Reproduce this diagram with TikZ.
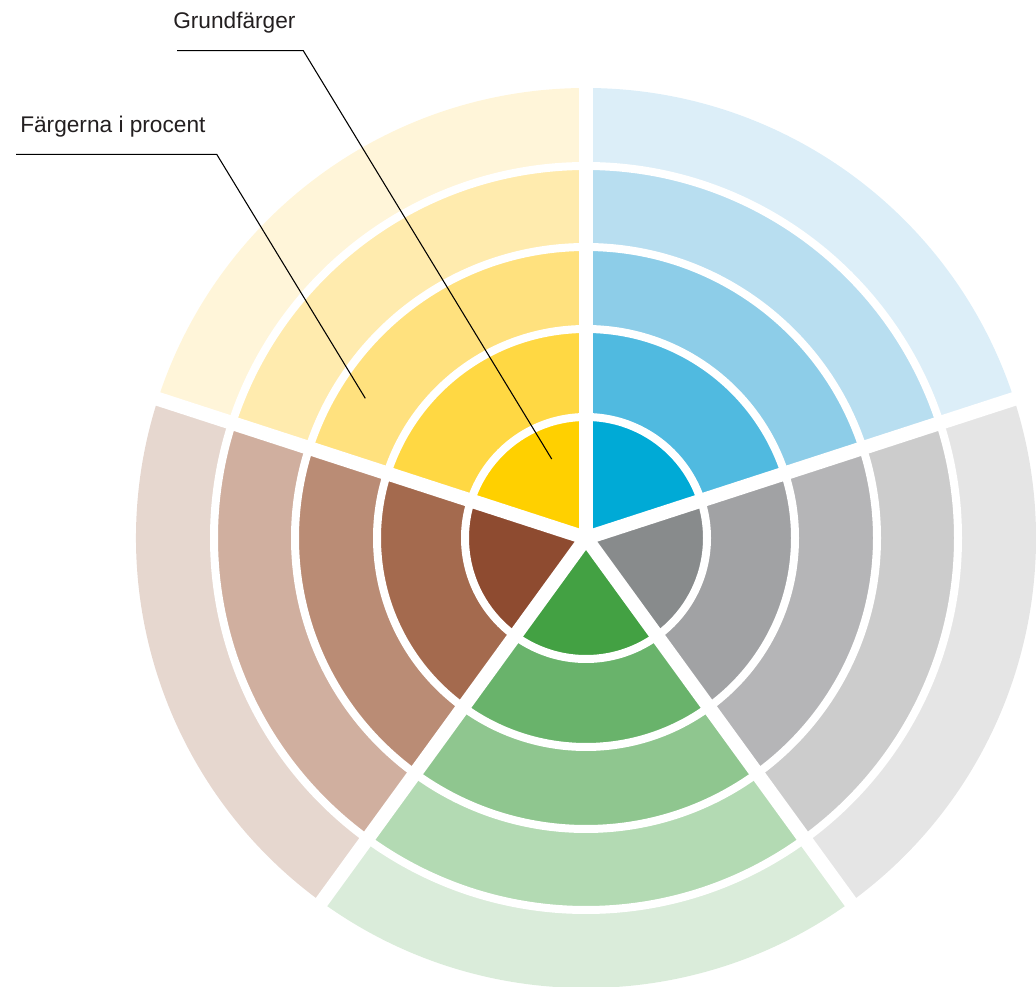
\documentclass[tikz,border=0pt]{standalone}
\usepackage{fontspec}
\setmainfont{Liberation Sans}
\definecolor{ye0}{HTML}{FFD000}
\definecolor{ye1}{HTML}{FFD843}
\definecolor{ye2}{HTML}{FFE17E}
\definecolor{ye3}{HTML}{FFEBAE}
\definecolor{ye4}{HTML}{FFF5D9}
\definecolor{bl0}{HTML}{00AAD6}
\definecolor{bl1}{HTML}{50BAE0}
\definecolor{bl2}{HTML}{8DCDE8}
\definecolor{bl3}{HTML}{B8DEF0}
\definecolor{bl4}{HTML}{DCEEF8}
\definecolor{gy0}{HTML}{888B8C}
\definecolor{gy1}{HTML}{A1A2A4}
\definecolor{gy2}{HTML}{B5B5B7}
\definecolor{gy3}{HTML}{CCCCCC}
\definecolor{gy4}{HTML}{E5E5E5}
\definecolor{gr0}{HTML}{43A143}
\definecolor{gr1}{HTML}{69B36B}
\definecolor{gr2}{HTML}{8FC68F}
\definecolor{gr3}{HTML}{B3DAB3}
\definecolor{gr4}{HTML}{DAECDA}
\definecolor{br0}{HTML}{8E4B30}
\definecolor{br1}{HTML}{A46A4E}
\definecolor{br2}{HTML}{BA8C75}
\definecolor{br3}{HTML}{D0AF9F}
\definecolor{br4}{HTML}{E6D7CF}
\definecolor{txt}{HTML}{231F20}
\tikzset{
  label text/.style={anchor=base west, inner sep=0pt, text=txt, font=\fontsize{17pt}{20pt}\selectfont},
  leader/.style={draw=black, line width=0.8pt},
  ringgap/.style={draw=white, line width=6pt},
  sectorgap/.style={draw=white, line width=10.5pt}
}
\begin{document}
\begin{tikzpicture}[x=0.75pt,y=0.75pt]
\useasboundingbox (0,0) rectangle (1036,986);
\coordinate (C) at (586,448);
% sectors
\foreach \a/\c in {90/ye,162/br,234/gr,306/gy,18/bl}{
  \foreach \r/\i in {450/4,372/3,291/2,209/1,121/0}{
    \fill[fill=\c\i] (C) -- ++(\a:\r) arc[start angle=\a, delta angle=72, radius=\r] -- cycle;
  }
}
% ring gaps
\foreach \r in {121,209,291,372}{
  \draw[ringgap] (C) circle[radius=\r];
}
% sector gaps
\foreach \a in {90,162,234,306,18}{
  \draw[sectorgap] (C) -- ++(\a:470);
}
% labels
\node[label text] (grund) at (173,957) {Grundfärger};
\node[label text] (procent) at (20,853) {Färgerna i procent};
\coordinate (g1) at (177,935.3);
\coordinate (g2) at (303.3,935.3);
\coordinate (g3) at (551.7,527);
\coordinate (p1) at (16,831.7);
\coordinate (p2) at (216.7,831.7);
\coordinate (p3) at (365.3,587.7);
\draw[leader] (g1) -- (g2) -- (g3);
\draw[leader] (p1) -- (p2) -- (p3);
\end{tikzpicture}
\end{document}
